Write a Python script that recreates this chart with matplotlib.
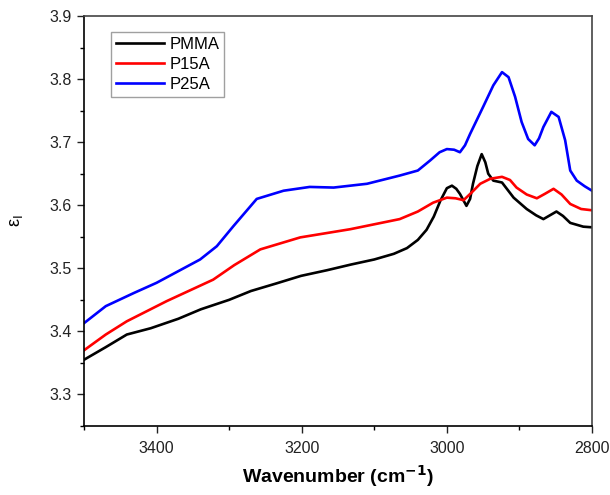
import matplotlib
matplotlib.use("Agg")
from matplotlib import pyplot as plt
from matplotlib.ticker import MultipleLocator

plt.rcParams['font.family'] = ['Liberation Sans', 'DejaVu Sans']

# PMMA (black)
pmma_x = [3500, 3470, 3441, 3408, 3370, 3339, 3300, 3270, 3235, 3201, 3165, 3132,
          3100, 3073, 3055, 3040, 3028, 3018, 3009, 3000, 2993, 2987, 2982, 2973,
          2968, 2964, 2958, 2952, 2947, 2943, 2936, 2924, 2908, 2890, 2877, 2867,
          2858, 2849, 2840, 2830, 2812, 2800]
pmma_y = [3.355, 3.375, 3.395, 3.405, 3.420, 3.435, 3.450, 3.464, 3.476, 3.488, 3.497, 3.506,
          3.514, 3.523, 3.532, 3.545, 3.561, 3.582, 3.607, 3.627, 3.631, 3.626, 3.618, 3.599,
          3.610, 3.634, 3.662, 3.681, 3.668, 3.650, 3.639, 3.636, 3.612, 3.594, 3.584, 3.578,
          3.584, 3.590, 3.583, 3.572, 3.566, 3.565]

# P15A (red)
p15_x = [3500, 3470, 3441, 3386, 3322, 3293, 3257, 3202, 3133, 3065, 3040, 3019,
         3000, 2988, 2977, 2966, 2954, 2940, 2924, 2913, 2904, 2890, 2876, 2865,
         2853, 2842, 2830, 2815, 2800]
p15_y = [3.370, 3.395, 3.416, 3.448, 3.482, 3.505, 3.530, 3.549, 3.562, 3.578, 3.590, 3.604,
         3.612, 3.611, 3.608, 3.620, 3.634, 3.642, 3.645, 3.640, 3.628, 3.617, 3.611, 3.618,
         3.626, 3.617, 3.602, 3.594, 3.592]

# P25A (blue)
p25_x = [3500, 3470, 3431, 3400, 3340, 3317, 3294, 3262, 3225, 3189, 3156, 3110,
         3065, 3040, 3023, 3010, 3000, 2990, 2982, 2975, 2968, 2950, 2936, 2924,
         2915, 2906, 2897, 2888, 2879, 2873, 2867, 2856, 2846, 2837, 2830, 2821,
         2810, 2800]
p25_y = [3.413, 3.440, 3.461, 3.477, 3.514, 3.535, 3.567, 3.610, 3.623, 3.629, 3.628, 3.634,
         3.647, 3.655, 3.671, 3.684, 3.689, 3.688, 3.684, 3.695, 3.713, 3.756, 3.790, 3.811,
         3.803, 3.772, 3.732, 3.705, 3.695, 3.706, 3.724, 3.748, 3.740, 3.703, 3.655, 3.639,
         3.630, 3.623]

fig = plt.figure(figsize=(6.1, 4.95), dpi=100)
ax = fig.add_axes([0.1377, 0.1394, 0.8328, 0.8283])

ax.plot(pmma_x, pmma_y, color='black', lw=1.9, label='PMMA')
ax.plot(p15_x, p15_y, color='red', lw=1.9, label='P15A')
ax.plot(p25_x, p25_y, color='blue', lw=1.9, label='P25A')

ax.set_xlim(3500, 2800)
ax.set_ylim(3.25, 3.9)
ax.xaxis.set_major_locator(MultipleLocator(200))
ax.xaxis.set_minor_locator(MultipleLocator(100))
ax.yaxis.set_major_locator(MultipleLocator(0.1))
ax.yaxis.set_minor_locator(MultipleLocator(0.05))
ax.tick_params(which='major', direction='out', length=5, width=1, labelsize=11.5, colors='#222222')
ax.tick_params(which='minor', direction='out', length=3, width=1)
ax.tick_params(axis='x', pad=6)
for s in ax.spines.values():
    s.set_linewidth(1.2)
ax.spines['top'].set_color('#444444')
ax.spines['right'].set_color('#444444')

ax.set_xlabel('Wavenumber (cm$^{\\mathbf{-1}}$)', fontsize=14, fontweight='bold', labelpad=5)
ax.set_ylabel('ε$_{\\mathrm{I}}$', fontsize=13, labelpad=18)

leg = ax.legend(loc='upper left', bbox_to_anchor=(0.053, 0.961), borderaxespad=0,
                fontsize=12, handlelength=2.9, labelspacing=0.3, fancybox=False,
                handletextpad=0.3, borderpad=0.3)
leg.get_frame().set_edgecolor('#888888')
leg.get_frame().set_linewidth(1)

plt.savefig('out.png', dpi=100)
